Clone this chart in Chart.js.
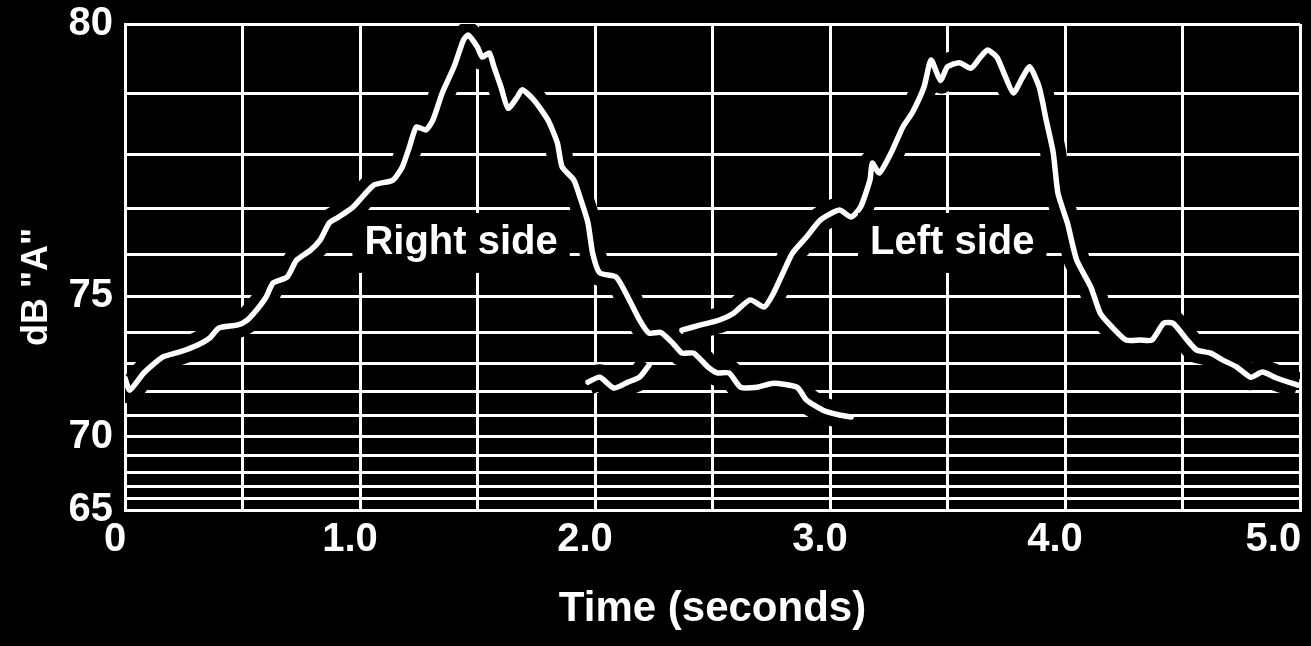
<!DOCTYPE html>
<html>
<head>
<meta charset="utf-8">
<script src="https://cdn.jsdelivr.net/npm/chart.js@4.4.1/dist/chart.umd.min.js"></script>
<style>
  html, body { margin: 0; padding: 0; background: #000; }
  #wrap { width: 1311px; height: 646px; }
</style>
</head>
<body>
<div id="wrap"><canvas id="chart"></canvas></div>
<script>
// right side trace (seconds, dB "A")
const rightTime = [0.00, 0.02, 0.08, 0.16, 0.23, 0.31, 0.36, 0.40, 0.48, 0.52, 0.56, 0.60, 0.63, 0.69, 0.73, 0.79, 0.83, 0.87, 0.91, 0.97,
  1.01, 1.06, 1.14, 1.18, 1.21, 1.24, 1.28, 1.31, 1.35, 1.40, 1.44, 1.46, 1.50, 1.52, 1.55, 1.57, 1.60, 1.63, 1.67, 1.69,
  1.74, 1.80, 1.84, 1.86, 1.91, 1.94, 1.97, 1.99, 2.02, 2.09, 2.14, 2.19, 2.23, 2.28, 2.33, 2.37, 2.42, 2.48, 2.52, 2.57,
  2.62, 2.69, 2.76, 2.86, 2.90, 2.97, 3.04, 3.09];
const rightDb = [72.50, 72.05, 72.68, 73.22, 73.38, 73.61, 73.82, 74.12, 74.21, 74.35, 74.63, 74.97, 75.33, 75.48, 75.88, 76.11, 76.33, 76.70, 76.82, 77.02,
  77.22, 77.45, 77.54, 77.78, 78.13, 78.47, 78.42, 78.58, 79.01, 79.40, 79.78, 79.85, 79.68, 79.54, 79.60, 79.40, 79.10, 78.77, 78.95, 79.06,
  78.90, 78.58, 78.20, 77.78, 77.54, 77.16, 76.70, 76.04, 75.58, 75.48, 74.97, 74.35, 73.97, 73.99, 73.67, 73.35, 73.35, 72.89, 72.68, 72.68,
  72.16, 72.16, 72.31, 72.16, 71.66, 71.24, 71.03, 70.94];

// short broken piece near 2 s
const fragTime = [1.97, 2.02, 2.08, 2.14, 2.19, 2.23];
const fragDb = [72.35, 72.53, 72.13, 72.35, 72.53, 72.95];

// left side trace
const leftTime = [2.37, 2.45, 2.53, 2.59, 2.66, 2.72, 2.76, 2.80, 2.84, 2.90, 2.96, 3.04, 3.09, 3.13, 3.17, 3.18, 3.21, 3.26, 3.31, 3.35,
  3.40, 3.43, 3.47, 3.50, 3.55, 3.60, 3.64, 3.67, 3.71, 3.74, 3.78, 3.82, 3.85, 3.89, 3.92, 3.95, 3.97, 4.01, 4.05, 4.11,
  4.15, 4.20, 4.26, 4.32, 4.37, 4.42, 4.46, 4.52, 4.56, 4.62, 4.67, 4.73, 4.79, 4.84, 4.90, 4.99];
const leftDb = [74.06, 74.21, 74.35, 74.54, 74.90, 74.71, 75.08, 75.58, 76.04, 76.40, 76.76, 76.96, 76.82, 77.02, 77.54, 77.85, 77.67, 78.03, 78.47, 78.70,
  79.10, 79.50, 79.20, 79.40, 79.46, 79.38, 79.54, 79.64, 79.54, 79.31, 79.01, 79.25, 79.40, 79.10, 78.58, 78.03, 77.29, 76.70, 75.88, 75.23,
  74.54, 74.15, 73.76, 73.76, 73.76, 74.26, 74.26, 73.76, 73.45, 73.35, 73.13, 72.89, 72.53, 72.71, 72.50, 72.24];

const xTickValues = [0, 1, 2, 3, 4, 5];
// last label padded so it sits inside the frame like the print
const xTickLabels = ['0', '1.0', '2.0', '3.0', '4.0', '5.0   '];
const yTickLabels = [65, 70, 75, 80];

const FONT = '"Liberation Sans", Arial, sans-serif';

// the printed dB axis is not linear: each dB step is ~0.877 of the one above it
const dbRatio = 1.1406;

class DbScale extends Chart.LinearScale {
  getPixelForValue(value) {
    if (value === null || value === undefined) return NaN;
    const lo = Math.pow(dbRatio, this.min - this.max);
    const v = Math.pow(dbRatio, value - this.max);
    return this.getPixelForDecimal((v - lo) / (1 - lo));
  }
  getValueForPixel(pixel) {
    const lo = Math.pow(dbRatio, this.min - this.max);
    const d = this.getDecimalForPixel(pixel);
    return this.max + Math.log(lo + d * (1 - lo)) / Math.log(dbRatio);
  }
}
DbScale.id = 'db';
DbScale.defaults = Chart.LinearScale.defaults;
Chart.register(DbScale);

const toPoints = (xs, ys) => xs.map((x, i) => ({ x: x, y: ys[i] }));

const traces = [
  toPoints(rightTime, rightDb),
  toPoints(fragTime, fragDb),
  toPoints(leftTime, leftDb)
];

const datasets = [];
traces.forEach((pts) => {
  // black halo so the grid breaks around the trace, like the print
  datasets.push({ data: pts, borderColor: '#000', borderWidth: 26, pointRadius: 0, tension: 0.2, order: 2 });
  datasets.push({ data: pts, borderColor: '#fff', borderWidth: 5.5, pointRadius: 0, tension: 0.2, order: 1,
    borderCapStyle: 'round', borderJoinStyle: 'round' });
});

const notesPlugin = {
  id: 'notes',
  afterDatasetsDraw(chart) {
    const ctx = chart.ctx;
    const xs = chart.scales.x, ys = chart.scales.y;
    const notes = [
      { text: 'Right side', t: 1.43, db: 76.27 },
      { text: 'Left side', t: 3.52, db: 76.27 }
    ];
    ctx.save();
    ctx.font = 'bold 40px ' + FONT;
    ctx.textAlign = 'center';
    ctx.textBaseline = 'middle';
    notes.forEach((n) => {
      const px = xs.getPixelForValue(n.t);
      const py = ys.getPixelForValue(n.db);
      const w = ctx.measureText(n.text).width;
      ctx.fillStyle = '#000';
      ctx.fillRect(px - w / 2 - 12, py - 30, w + 24, 60);
      ctx.fillStyle = '#fff';
      ctx.fillText(n.text, px, py);
    });
    ctx.restore();
  }
};

const ctx = document.getElementById('chart').getContext('2d');
new Chart(ctx, {
  type: 'line',
  data: { datasets: datasets },
  options: {
    responsive: true,
    maintainAspectRatio: false,
    animation: false,
    layout: { autoPadding: false, padding: { top: 24, right: 11, left: 0, bottom: 0 } },
    plugins: { legend: { display: false }, tooltip: { enabled: false } },
    scales: {
      x: {
        type: 'linear',
        min: 0,
        max: 5,
        grid: { color: '#fff', lineWidth: 3, drawTicks: false },
        border: { color: '#fff', width: 3 },
        ticks: {
          stepSize: 0.5,
          autoSkip: false,
          maxRotation: 0,
          color: '#fff',
          padding: 6,
          labelOffset: -10,
          font: { family: FONT, size: 40, weight: 'bold' },
          callback: (v) => {
            const i = xTickValues.indexOf(v);
            return i >= 0 ? xTickLabels[i] : '';
          }
        },
        title: {
          display: true,
          text: 'Time (seconds)',
          color: '#fff',
          font: { family: FONT, size: 42, weight: 'bold' },
          padding: { top: 0, bottom: 11 }
        },
        afterFit: (s) => {
          s.height = 136;
          s.paddingLeft = 0;
          s.paddingRight = 0;
        }
      },
      y: {
        type: 'db',
        min: 65,
        max: 80,
        grid: { color: '#fff', lineWidth: 3, drawTicks: false },
        border: { color: '#fff', width: 3 },
        ticks: {
          stepSize: 1,
          autoSkip: false,
          color: '#fff',
          padding: 12,
          font: { family: FONT, size: 40, weight: 'bold' },
          callback: (v) => (yTickLabels.includes(v) ? String(v) : '')
        },
        title: {
          display: true,
          text: 'dB "A"    ',
          color: '#fff',
          font: { family: FONT, size: 36, weight: 'bold' },
          padding: { top: 15, bottom: 0 }
        },
        afterFit: (s) => {
          s.width = 125;
          s.paddingTop = 0;
          s.paddingBottom = 0;
        }
      }
    }
  },
  plugins: [notesPlugin]
});
</script>
</body>
</html>
